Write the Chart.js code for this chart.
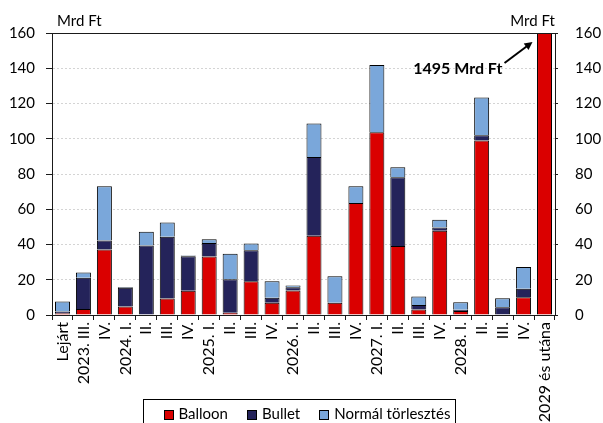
<!DOCTYPE html>
<html>
<head>
<meta charset="utf-8">
<script src="https://cdn.jsdelivr.net/npm/chart.js@4/dist/chart.umd.min.js"></script>
<style>
  html, body { margin: 0; padding: 0; background: #fff; }
  #wrap { width: 603px; height: 423px; position: relative; }
</style>
</head>
<body>
<div id="wrap"><canvas id="c" width="603" height="423"></canvas></div>
<script>
// Maturity profile (Mrd Ft) by quarter
const categories = ['Lejárt', '2023. III.', 'IV.', '2024. I.', 'II.', 'III.', 'IV.',
  '2025. I.', 'II.', 'III.', 'IV.', '2026. I.', 'II.', 'III.', 'IV.',
  '2027. I.', 'II.', 'III.', 'IV.', '2028. I.', 'II.', 'III.', 'IV.', '2029 és utána'];

const balloon = [1.0, 3.4, 37.2, 4.8, 0, 9.3, 13.8, 33.2, 1.3, 19.1, 6.9, 13.9,
  44.9, 7.0, 63.5, 103.7, 39.2, 3.1, 47.8, 2.2, 99.0, 0, 10.1, 1495];
const bullet = [1.0, 17.8, 5.1, 10.6, 39.4, 35.1, 19.6, 7.6, 19.0, 17.7, 2.9, 1.9,
  44.8, 0, 0, 0, 38.9, 2.6, 1.9, 0.8, 3.0, 4.4, 4.8, 0];
const normal = [5.7, 2.9, 30.7, 0.5, 7.8, 8.1, 0.4, 2.2, 14.4, 3.8, 9.4, 1.0,
  18.9, 15.0, 9.5, 38.1, 5.7, 4.8, 4.3, 4.3, 21.4, 5.1, 12.4, 0];

const yMin = 0, yMax = 160, yStep = 20;
const overflowLabel = '1495 Mrd Ft';
const unitLabel = 'Mrd Ft';

const FONT = 'Lato';
const AXIS = '#1a1a1a';

// Frame line across the top of the plot, unit captions, arrow note and boxed legend
const decorations = {
  id: 'decorations',
  afterDatasetsDraw(chart) {
    const { ctx, chartArea: a } = chart;
    ctx.save();
    ctx.strokeStyle = AXIS;
    ctx.lineWidth = 1;
    ctx.beginPath();
    ctx.moveTo(a.left, Math.round(a.top) + 0.5);
    ctx.lineTo(a.right, Math.round(a.top) + 0.5);
    ctx.stroke();
    ctx.restore();
  },
  afterDraw(chart) {
    const { ctx, chartArea: a, scales } = chart;
    ctx.save();
    ctx.fillStyle = '#000';
    ctx.font = `15px ${FONT}`;
    ctx.textBaseline = 'middle';
    ctx.textAlign = 'left';
    ctx.fillText(unitLabel, a.left + 5, a.top - 12);
    ctx.textAlign = 'right';
    ctx.fillText(unitLabel, a.right, a.top - 12);

    // note pointing at the off-scale bar
    const xLast = scales.x.getPixelForValue(categories.length - 1);
    const tipX = xLast - 12, tipY = a.top + 9;
    const tailX = tipX - 28, tailY = tipY + 21;
    ctx.strokeStyle = '#000';
    ctx.lineWidth = 2;
    ctx.beginPath();
    ctx.moveTo(tailX, tailY);
    ctx.lineTo(tipX - 4, tipY + 3);
    ctx.stroke();
    const ang = Math.atan2(tipY - tailY, tipX - tailX);
    ctx.fillStyle = '#000';
    ctx.beginPath();
    ctx.moveTo(tipX, tipY);
    ctx.lineTo(tipX - 8 * Math.cos(ang) + 4 * Math.sin(ang), tipY - 8 * Math.sin(ang) - 4 * Math.cos(ang));
    ctx.lineTo(tipX - 8 * Math.cos(ang) - 4 * Math.sin(ang), tipY - 8 * Math.sin(ang) + 4 * Math.cos(ang));
    ctx.closePath();
    ctx.fill();
    ctx.font = `bold 16px ${FONT}`;
    ctx.textAlign = 'right';
    ctx.textBaseline = 'middle';
    ctx.fillText(overflowLabel, tailX - 2, tailY + 6);

    // boxed legend below the plot
    ctx.font = `15px ${FONT}`;
    ctx.textAlign = 'left';
    const sq = 10, gapText = 5, gapItem = 19, padL = 20, padR = 5;
    const items = chart.data.datasets.map(ds => ({ label: ds.label, color: ds.backgroundColor, w: ctx.measureText(ds.label).width }));
    let total = padL + padR;
    items.forEach((it, i) => { total += sq + gapText + it.w + (i < items.length - 1 ? gapItem : 0); });
    const boxLeft = Math.round((a.left + a.right) / 2 - total / 2 - 5) + 0.5;
    const boxTop = 399.5;
    ctx.strokeStyle = '#000';
    ctx.lineWidth = 1;
    ctx.strokeRect(boxLeft, boxTop, Math.round(total), 40);
    let x = boxLeft + padL;
    const cy = boxTop + 15;
    items.forEach(it => {
      ctx.fillStyle = it.color;
      ctx.fillRect(Math.round(x), Math.round(cy - sq / 2), sq, sq);
      ctx.strokeStyle = '#000';
      ctx.strokeRect(Math.round(x) + 0.5, Math.round(cy - sq / 2) + 0.5, sq - 1, sq - 1);
      ctx.fillStyle = '#000';
      ctx.fillText(it.label, x + sq + gapText, cy);
      x += sq + gapText + it.w + gapItem;
    });
    ctx.restore();
  }
};

const barStyle = { borderColor: '#000', borderWidth: 1, barPercentage: 0.715, categoryPercentage: 1.0, clip: 0 };

new Chart(document.getElementById('c'), {
  type: 'bar',
  data: {
    labels: categories,
    datasets: [
      { label: 'Balloon', data: balloon, backgroundColor: '#DA0000', ...barStyle },
      { label: 'Bullet', data: bullet, backgroundColor: '#24235A', ...barStyle },
      { label: 'Normál törlesztés', data: normal, backgroundColor: '#7AA7DA', ...barStyle }
    ]
  },
  options: {
    responsive: false,
    animation: false,
    devicePixelRatio: 1,
    layout: { padding: { top: 33, left: 0, right: 0, bottom: 0 } },
    plugins: { legend: { display: false }, tooltip: { enabled: false } },
    scales: {
      x: {
        stacked: true,
        offset: true,
        grid: { offset: true, drawOnChartArea: false, tickLength: 5, tickColor: AXIS },
        border: { color: AXIS, width: 1 },
        ticks: { autoSkip: false, minRotation: 90, maxRotation: 90, padding: 2, color: '#000', font: { family: FONT, size: 16 } },
        afterFit(s) { s.height = 108; }
      },
      y: {
        stacked: true,
        position: 'left',
        min: yMin, max: yMax,
        ticks: { stepSize: yStep, padding: 11, color: '#000', font: { family: FONT, size: 15 } },
        grid: { color: '#d4d4d4', lineWidth: 1, tickLength: 6, tickColor: AXIS },
        border: { color: AXIS, width: 1, dash: [2, 2] },
        afterFit(s) { s.width = 52; }
      },
      y2: {
        position: 'right',
        min: yMin, max: yMax,
        ticks: { stepSize: yStep, padding: 17, color: '#000', font: { family: FONT, size: 15 } },
        grid: { drawOnChartArea: false, tickLength: 3, tickColor: AXIS },
        border: { color: AXIS, width: 1 },
        afterFit(s) { s.width = 48; }
      }
    }
  },
  plugins: [decorations]
});
</script>
</body>
</html>
